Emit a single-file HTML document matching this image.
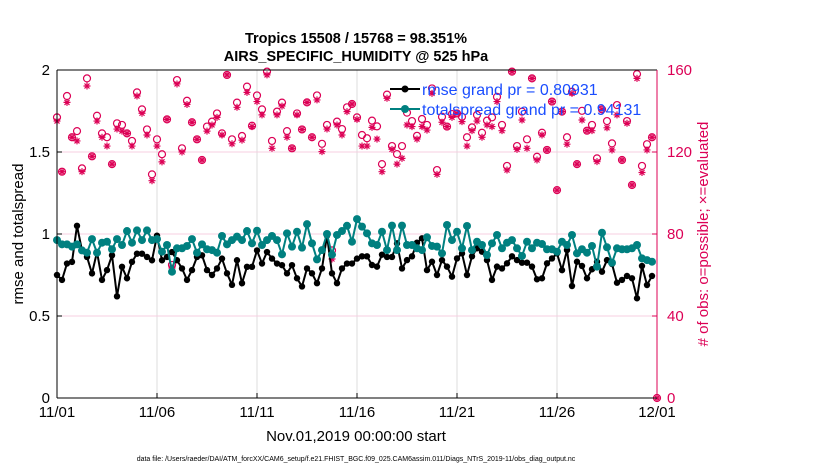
<!DOCTYPE html>
<html><head><meta charset="utf-8"><style>
body{margin:0;background:#fff;}
svg text{font-family:"Liberation Sans",sans-serif;}
</style></head><body>
<svg id="chart" width="830" height="470" viewBox="0 0 830 470" xmlns="http://www.w3.org/2000/svg">
<rect width="830" height="470" fill="#fff"/>
<text x="356" y="43" text-anchor="middle" font-size="14.5" font-weight="bold">Tropics 15508 / 15768 = 98.351%</text>
<text x="356" y="61" text-anchor="middle" font-size="14.5" font-weight="bold">AIRS_SPECIFIC_HUMIDITY @ 525 hPa</text>
<g id="grid"></g>
<g id="obs"></g>
<g id="series"></g>
<g id="axes"></g>
<g>
<line x1="390" y1="89" x2="420" y2="89" stroke="#000" stroke-width="2"/>
<circle cx="405" cy="89" r="3.5" fill="#000"/>
<text x="422" y="95" font-size="16" fill="#1a4dff">rmse grand pr = 0.80931</text>
<line x1="390" y1="109" x2="420" y2="109" stroke="#008080" stroke-width="2"/>
<circle cx="405" cy="109" r="4" fill="#008080"/>
<text x="422" y="115" font-size="16" fill="#1a4dff">totalspread grand pr = 0.94131</text>
</g>
<text transform="translate(23,234) rotate(-90)" text-anchor="middle" font-size="15">rmse and totalspread</text>
<text transform="translate(708,234) rotate(-90)" text-anchor="middle" font-size="15" fill="#dc0055"># of obs: o=possible; ×=evaluated</text>
<text x="356" y="441" text-anchor="middle" font-size="15">Nov.01,2019 00:00:00 start</text>
<text x="356" y="461" text-anchor="middle" font-size="7">data file: /Users/raeder/DAI/ATM_forcXX/CAM6_setup/f.e21.FHIST_BGC.f09_025.CAM6assim.011/Diags_NTrS_2019-11/obs_diag_output.nc</text>
</svg>
<script>
const xTickLabels=["11/01","11/06","11/11","11/16","11/21","11/26","12/01"];
const leftTicks=[0,0.5,1,1.5,2];
const rightTicks=[0,40,80,120,160];
const rmse=[0.75,0.72,0.82,0.83,1.05,0.90,0.86,0.76,0.89,0.72,0.78,0.87,0.62,0.80,0.73,0.83,0.88,0.88,0.86,0.84,0.99,0.84,0.86,0.89,0.84,0.79,0.72,0.78,0.86,0.87,0.78,
0.75,0.79,0.85,0.76,0.69,0.84,0.70,0.80,0.80,0.90,0.82,0.89,0.85,0.82,0.81,0.76,0.81,0.73,0.68,0.79,0.76,0.70,0.79,0.99,0.76,0.70,0.79,0.82,0.82,0.85,
0.864,0.864,0.811,0.801,0.874,0.86,0.86,0.943,0.79,0.841,0.864,0.947,0.974,0.78,0.831,0.75,0.841,0.801,0.74,0.851,0.882,0.75,0.864,0.913,0.892,0.841,0.72,0.801,0.79,0.821,
0.864,0.841,0.825,0.825,0.801,0.724,0.73,0.821,0.851,0.882,0.78,0.902,0.683,0.831,0.805,0.73,0.785,0.831,0.77,0.841,0.817,0.703,0.72,0.744,0.73,0.608,0.805,0.689,0.744];
const spread=[0.963,0.937,0.937,0.923,0.937,0.90,0.886,0.969,0.886,0.947,0.953,0.907,0.969,0.933,1.018,0.947,1.022,0.963,1.022,0.963,0.969,0.892,0.933,0.77,0.913,0.913,0.927,0.969,0.886,0.937,0.907,
0.902,0.886,0.988,0.937,0.963,0.984,0.963,1.018,0.943,1.02,0.933,0.963,0.988,0.963,0.876,1.004,0.923,1.014,0.917,1.06,0.943,0.845,0.902,1.0,0.874,0.994,1.018,1.05,0.953,1.091,
1.045,1.004,0.943,0.933,1.014,0.902,1.051,0.902,1.051,0.933,0.933,0.913,0.902,0.98,0.927,0.923,0.882,1.055,0.963,1.014,0.913,1.049,0.902,0.953,0.933,0.872,0.943,0.994,0.913,0.947,
0.963,0.913,0.866,0.953,0.913,0.947,0.939,0.907,0.907,0.892,0.953,0.933,0.994,0.882,0.907,0.886,0.927,0.801,1.008,0.919,0.825,0.913,0.907,0.907,0.913,0.933,0.851,0.841,0.831];
const possible=[136.9,110.4,147.3,127.2,130.2,112.0,155.9,117.9,137.7,129.1,127.2,114.1,134,133.2,129.1,125.4,149.1,140.8,131,109.1,126.2,118.9,135.9,64.9,155.1,121.8,145,134.5,126.2,116.1,132.4,
134.8,138.8,129.1,157.6,126.2,144.1,127.8,151.9,132.8,147.6,140.8,159.2,125.4,139.7,144.1,130.2,121.8,138.8,131,144.2,127.2,147.6,124,133.2,72.0,134.8,131.2,141.8,143.4,136.9,
128.3,126.7,135.3,132.5,114.1,148.0,122.9,119.0,122.9,139.2,135.1,127.9,136.1,133.2,151.0,111.2,137.2,132.4,138.5,138.8,137.2,127.2,132.0,138.1,129.4,135.3,136.9,146.9,133.2,113.2,
159.2,122.9,139.7,126.2,155.9,117.7,129.4,121.0,144.6,101.4,139.7,127.2,149.4,114.1,140.1,130.4,133.2,116.9,140.8,135.1,124.2,142.9,116.1,135.1,103.9,158.0,113.2,123.8,127.2,0];
const evaluated=[135.1,110.4,144.2,127.2,125.4,110.4,152.2,117.9,135.1,127.2,122.9,114.1,131.2,130.2,129.1,122.9,147.3,138.9,128.3,106.0,122.9,115.2,135.9,63.4,153.2,120,143.2,134.5,126.2,116.1,130.2,
133.2,136.9,128.3,157.6,124.0,141.8,125.8,149.1,132.4,144.6,138.1,157.6,121.8,138.1,142.4,127.2,121.8,138.1,131,144.2,127.2,145.4,120.2,131.2,67.8,133.2,128.3,139.7,143.4,135.9,
122.9,122.9,132.0,126.3,110.4,146.2,121.3,114.1,116.9,133.2,132.4,126.3,132.4,130.7,148.6,109.1,134.5,132.4,136.9,138.8,134.8,122.9,130.4,135.1,127.2,133.2,132.4,144.6,130.4,111.2,
159.2,121.3,135.6,121.8,155.9,116.1,128.3,121.0,144.6,101.4,139.7,123.8,148.6,114.1,135.6,130.4,130.4,115.3,140.8,131.8,121.0,138.1,116.1,134.0,103.9,155.9,110.0,121.0,127.2,0];

const NS="http://www.w3.org/2000/svg";
const X0=57,X1=657,Y0=398,Y1=70,STEPS=120;
function xs(i){return X0+(X1-X0)*i/STEPS;}
function yl(v){return Y0-(Y0-Y1)*v/2;}
function yr(v){return Y0-(Y0-Y1)*v/160;}
function mk(tag,attrs,parent){const e=document.createElementNS(NS,tag);for(const k in attrs)e.setAttribute(k,attrs[k]);parent.appendChild(e);return e;}
const grid=document.getElementById('grid'),axes=document.getElementById('axes'),obs=document.getElementById('obs'),ser=document.getElementById('series');
const RED="#dc0055";
xTickLabels.forEach((t,k)=>{const x=X0+(X1-X0)*k/(xTickLabels.length-1);
  if(k>0&&k<xTickLabels.length-1){const g=mk('line',{x1:x,x2:x,y1:Y1,y2:Y0,stroke:'#dcdcdc','stroke-width':1},grid);
  
  }
  mk('line',{x1:x,x2:x,y1:Y0,y2:Y0-5,stroke:'#000'},axes);
  const tx=mk('text',{x:x,y:417,'text-anchor':'middle','font-size':15},axes);tx.textContent=t;
  
  
});
rightTicks.forEach(v=>{const y=yr(v);
  if(v>0&&v<160){const g=mk('line',{x1:X0,x2:X1,y1:y,y2:y,stroke:'#f7cfe0','stroke-width':1},grid);
  
  }
  mk('line',{x1:X1,x2:X1-5,y1:y,y2:y,stroke:RED},axes);
  const tx=mk('text',{x:667,y:y+5,'font-size':15,fill:RED},axes);tx.textContent=v;
  
  
});
leftTicks.forEach(v=>{const y=yl(v);
  mk('line',{x1:X0,x2:X0+5,y1:y,y2:y,stroke:'#000'},axes);
  const tx=mk('text',{x:50,y:y+5,'text-anchor':'end','font-size':15},axes);tx.textContent=v;
  
  
});
mk('line',{x1:X0,x2:X1,y1:Y1,y2:Y1,stroke:'#000'},axes);
mk('line',{x1:X0,x2:X1,y1:Y0,y2:Y0,stroke:'#000'},axes);
mk('line',{x1:X0,x2:X0,y1:Y1,y2:Y0,stroke:'#000'},axes);
mk('line',{x1:X1,x2:X1,y1:Y1,y2:Y0,stroke:RED},axes);
possible.forEach((v,i)=>{const c=mk('circle',{cx:xs(i),cy:yr(v),r:3.5,fill:'none',stroke:RED,'stroke-width':1.2},obs);
  
  });
evaluated.forEach((v,i)=>{const x=xs(i),y=yr(v),r=3.5;
  const p=mk('path',{d:`M${x-r},${y}H${x+r}M${x},${y-r}V${y+r}M${x-2.5},${y-2.5}L${x+2.5},${y+2.5}M${x-2.5},${y+2.5}L${x+2.5},${y-2.5}`,stroke:RED,'stroke-width':1.2},obs);
  
  });
function drawLine(arr,color,r,name){
  const d=arr.map((v,i)=>(i?'L':'M')+xs(i).toFixed(1)+','+yl(v).toFixed(1)).join('');
  const pl=mk('path',{d:d,fill:'none',stroke:color,'stroke-width':2},ser);
  
  
  arr.forEach((v,i)=>{const c=mk('circle',{cx:xs(i),cy:yl(v),r:r,fill:color},ser);
    
    });
}
drawLine(rmse,'#000',3.2,'rmse');
drawLine(spread,'#008080',4,'totalspread');
</script>
</body></html>
